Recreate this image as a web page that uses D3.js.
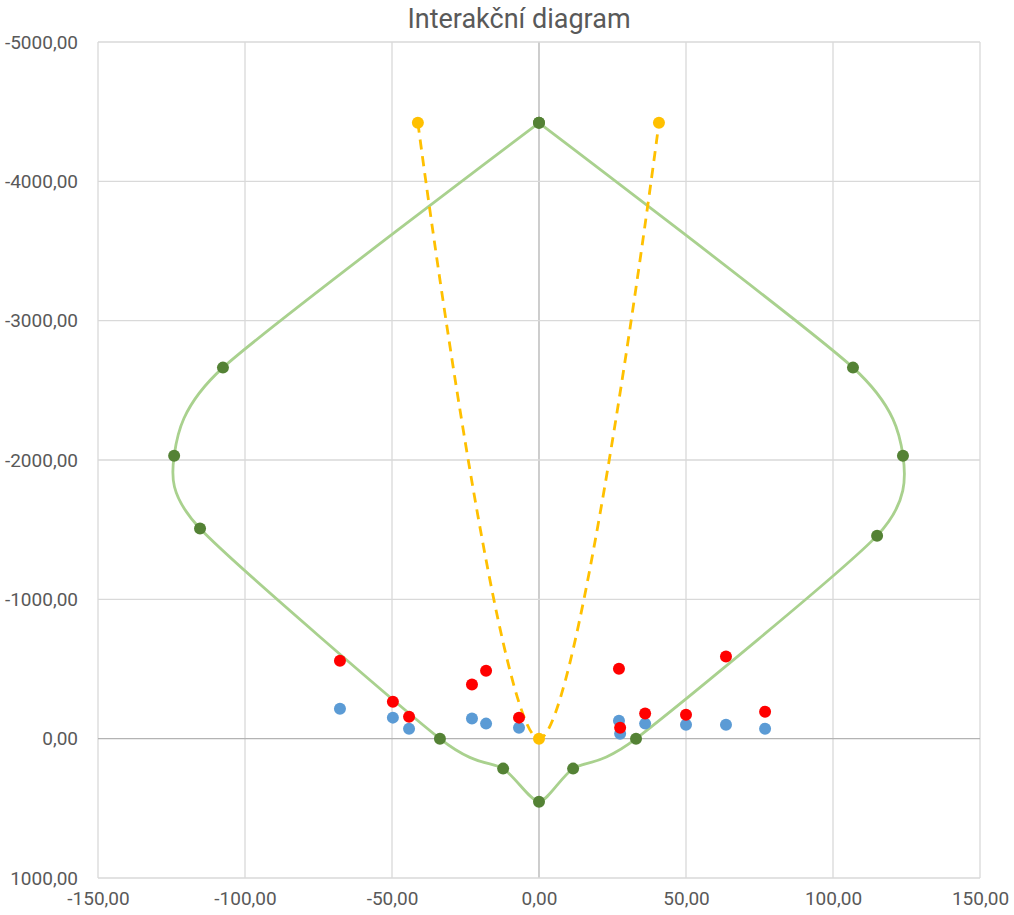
<!DOCTYPE html>
<html>
<head>
<meta charset="utf-8">
<script src="https://cdnjs.cloudflare.com/ajax/libs/d3/7.8.5/d3.min.js"></script>
<style>
  body { margin: 0; background: #fff; }
  .tick-label { font-family: "Liberation Sans Narrow", "Roboto", sans-serif; fill: #595959; }
</style>
</head>
<body>
<div class="container"></div>
<script>
/* Interaction curve (green), closed loop */
const curveM = [0, -107.5, -124.1, -115.3, -33.7, -12.2, 0, 11.6, 33.0, 115.0, 123.8, 106.8, 0];
const curveN = [-4420, -2663, -2031, -1508, 0, 215, 452, 215, 0, -1457, -2031, -2663, -4420];

/* Yellow dashed series */
const yellowM = [-41.2, 0, 40.8];
const yellowN = [-4420, 0, -4420];

/* Load cases: same M, two N series */
const loadM = [-67.7, -49.7, -44.2, -22.8, -18.0, -6.8, 27.2, 27.6, 36.1, 50.0, 63.6, 76.9];
const blueN = [-215, -151, -72, -144, -108, -79, -129, -36, -108, -100, -100, -72];
const redN  = [-560, -265, -158, -388, -488, -151, -502, -79, -180, -172, -589, -194];

/* Axis ticks */
const xTicks = [-150, -100, -50, 0, 50, 100, 150];
const yTicks = [-5000, -4000, -3000, -2000, -1000, 0, 1000];

const w = 1014;
const h = 915;
const margin = {top: 42, right: 34, bottom: 37, left: 98};

const fmt = (v) => d3.format(".2f")(v).replace("−", "-").replace(".", ",");

const xScale = d3.scaleLinear()
                 .domain([-150, 150])
                 .range([margin.left, w - margin.right]);
const yScale = d3.scaleLinear()
                 .domain([-5000, 1000])
                 .range([margin.top, h - margin.bottom]);

const svg = d3.select(".container")
              .append("svg")
              .attr("width", w)
              .attr("height", h);

/* Title */
svg.append("text")
   .attr("x", w / 2 + 12)
   .attr("y", 28)
   .attr("text-anchor", "middle")
   .attr("font-family", "Liberation Sans Narrow, Roboto, sans-serif")
   .attr("font-size", 27)
   .attr("fill", "#595959")
   .text("Interakční diagram");

/* Gridlines */
svg.append("g")
   .selectAll("line")
   .data(xTicks)
   .enter()
   .append("line")
   .attr("x1", (d) => xScale(d))
   .attr("x2", (d) => xScale(d))
   .attr("y1", margin.top)
   .attr("y2", h - margin.bottom)
   .attr("stroke", (d) => d === 0 ? "#b3b3b3" : "#d9d9d9")
   .attr("stroke-width", 1.3);

svg.append("g")
   .selectAll("line")
   .data(yTicks)
   .enter()
   .append("line")
   .attr("x1", margin.left)
   .attr("x2", w - margin.right)
   .attr("y1", (d) => yScale(d))
   .attr("y2", (d) => yScale(d))
   .attr("stroke", (d) => d === 0 ? "#b3b3b3" : "#d9d9d9")
   .attr("stroke-width", 1.3);

/* Axes, labels only */
const xAxis = d3.axisBottom(xScale).tickValues(xTicks).tickFormat(fmt).tickSize(0).tickPadding(14);
const yAxis = d3.axisLeft(yScale).tickValues(yTicks).tickFormat(fmt).tickSize(0).tickPadding(20);

const gx = svg.append("g")
   .attr("transform", "translate(0," + (h - margin.bottom) + ")")
   .call(xAxis);
const gy = svg.append("g")
   .attr("transform", "translate(" + margin.left + ",0)")
   .call(yAxis);

[gx, gy].forEach((g) => {
  g.select(".domain").remove();
  g.selectAll("text")
   .attr("class", "tick-label")
   .attr("font-size", 19);
});

const pts = (xs, ys) => xs.map((d, i) => [xScale(d), yScale(ys[i])]);

/* Green interaction curve */
svg.append("path")
   .datum(pts(curveM, curveN))
   .attr("d", d3.line().curve(d3.curveCardinal.tension(0.3)))
   .attr("fill", "none")
   .attr("stroke", "#a9d18e")
   .attr("stroke-width", 2.8);

/* Yellow dashed */
svg.append("path")
   .datum(pts(yellowM, yellowN))
   .attr("d", d3.line().curve(d3.curveCardinal.tension(0)))
   .attr("fill", "none")
   .attr("stroke", "#ffc000")
   .attr("stroke-width", 2.8)
   .attr("stroke-dasharray", "10,7");

const dots = (data, color) => {
  svg.append("g")
     .selectAll("circle")
     .data(data)
     .enter()
     .append("circle")
     .attr("cx", (d) => d[0])
     .attr("cy", (d) => d[1])
     .attr("r", 6)
     .attr("fill", color);
};

dots(pts(loadM, blueN), "#5b9bd5");
dots(pts(loadM, redN), "#ff0000");
dots(pts(curveM, curveN), "#548235");
dots(pts(yellowM, yellowN), "#ffc000");
</script>
</body>
</html>
